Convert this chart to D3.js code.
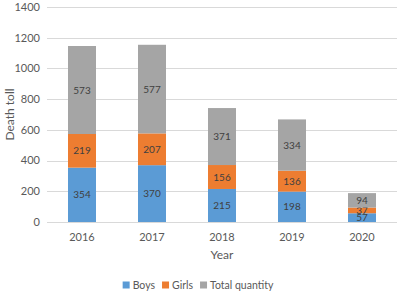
<!DOCTYPE html>
<html lang="en">
<head>
<meta charset="UTF-8">
<title>Death toll by year</title>
<script src="https://cdn.jsdelivr.net/npm/d3@7"></script>
<style>
  body { margin: 0; background: #fff; }
  text { font-family: Lato, "Open Sans", sans-serif; }
</style>
</head>
<body>
<div id="app"></div>
<script>
var years = ["2016", "2017", "2018", "2019", "2020"];
var boys = [354, 370, 215, 198, 57];
var girls = [219, 207, 156, 136, 37];
var totalQty = [573, 577, 371, 334, 94];
var seriesNames = ["Boys", "Girls", "Total quantity"];
var yTicks = [0, 200, 400, 600, 800, 1000, 1200, 1400];

var width = 400, height = 294;
var margin = { left: 47, top: 7, right: 3, bottom: 72 };

var svg = d3.select("#app").append("svg")
    .attr("width", width)
    .attr("height", height);

var rows = years.map(function (y, i) {
    return { year: y, "Boys": boys[i], "Girls": girls[i], "Total quantity": totalQty[i] };
});
var stacked = d3.stack().keys(seriesNames)(rows);

var x = d3.scaleBand().domain(years)
    .range([margin.left, width - margin.right])
    .paddingInner(0.6).paddingOuter(0.3);
var y = d3.scaleLinear().domain([0, 1400])
    .range([height - margin.bottom, margin.top]);
var color = d3.scaleOrdinal().domain(seriesNames)
    .range(["#5b9bd5", "#ed7d31", "#a5a5a5"]);

// grid lines
svg.append("g").selectAll("line")
    .data(yTicks).enter().append("line")
    .attr("x1", margin.left).attr("x2", width - margin.right)
    .attr("y1", function (d) { return Math.round(y(d)) + 0.5; })
    .attr("y2", function (d) { return Math.round(y(d)) + 0.5; })
    .attr("stroke", "#d9d9d9").attr("stroke-width", 1);

// y tick labels
svg.append("g").selectAll("text")
    .data(yTicks).enter().append("text")
    .attr("x", margin.left - 7)
    .attr("y", function (d) { return y(d); })
    .attr("dy", "0.35em")
    .attr("text-anchor", "end")
    .attr("font-size", 11)
    .attr("fill", "#595959")
    .text(function (d) { return d; });

// bars
var layer = svg.selectAll(".layer")
    .data(stacked).enter().append("g")
    .attr("class", "layer")
    .attr("fill", function (d) { return color(d.key); });

layer.selectAll("rect")
    .data(function (d) { return d; }).enter().append("rect")
    .attr("x", function (d) { return x(d.data.year); })
    .attr("width", x.bandwidth())
    .attr("y", function (d) { return y(d[1]); })
    .attr("height", function (d) { return y(d[0]) - y(d[1]); });

layer.selectAll("text")
    .data(function (d) { return d; }).enter().append("text")
    .attr("x", function (d) { return x(d.data.year) + x.bandwidth() / 2; })
    .attr("y", function (d) { return (y(d[0]) + y(d[1])) / 2; })
    .attr("dy", "0.35em")
    .attr("text-anchor", "middle")
    .attr("font-size", 10)
    .attr("fill", "#404040")
    .text(function (d) { return d[1] - d[0]; });

// x tick labels
svg.append("g").selectAll("text")
    .data(years).enter().append("text")
    .attr("x", function (d) { return x(d) + x.bandwidth() / 2; })
    .attr("y", height - margin.bottom + 15)
    .attr("dy", "0.35em")
    .attr("text-anchor", "middle")
    .attr("font-size", 11)
    .attr("fill", "#595959")
    .text(function (d) { return d; });

// axis titles
svg.append("text")
    .attr("x", (margin.left + width - margin.right) / 2)
    .attr("y", 255).attr("dy", "0.35em")
    .attr("text-anchor", "middle")
    .attr("font-size", 12).attr("fill", "#595959")
    .text("Year");

svg.append("text")
    .attr("transform", "translate(10," + (margin.top + height - margin.bottom) / 2 + ") rotate(-90)")
    .attr("dy", "0.35em")
    .attr("text-anchor", "middle")
    .attr("font-size", 12).attr("fill", "#595959")
    .text("Death toll");

// legend, laid out from measured text widths
var legend = svg.append("g");
var items = legend.selectAll("g")
    .data(seriesNames).enter().append("g");
items.append("rect")
    .attr("x", 0).attr("y", -3.5)
    .attr("width", 7).attr("height", 7)
    .attr("fill", function (d) { return color(d); });
items.append("text")
    .attr("x", 10).attr("dy", "0.35em")
    .attr("font-size", 10.5).attr("fill", "#595959")
    .text(function (d) { return d; });
var pos = 0;
items.each(function () {
    var w = d3.select(this).select("text").node().getComputedTextLength();
    d3.select(this).attr("transform", "translate(" + pos + ",0)");
    pos += 10 + w + 7;
});
var totalW = pos - 7;
legend.attr("transform", "translate(" + (198 - totalW / 2) + ",285)");
</script>
</body>
</html>
